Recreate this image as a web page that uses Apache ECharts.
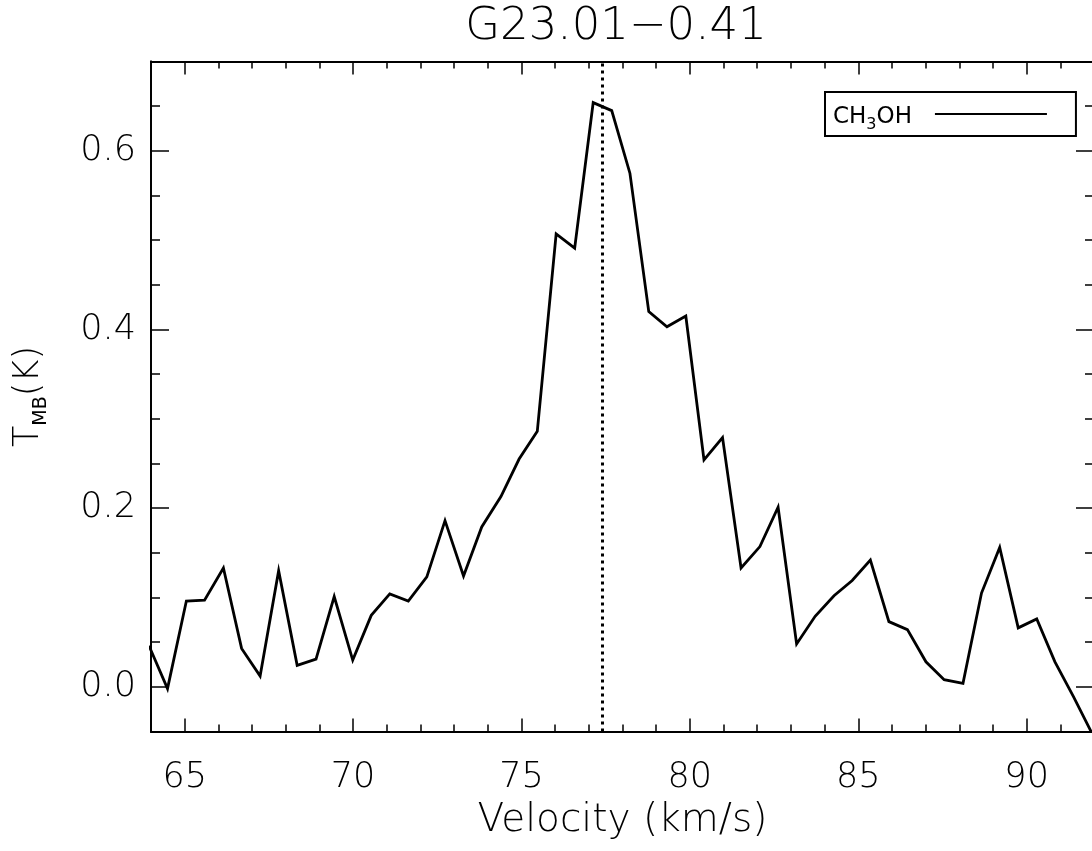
<!DOCTYPE html>
<html>
<head>
<meta charset="utf-8">
<script src="https://cdn.jsdelivr.net/npm/echarts@6/dist/echarts.min.js"></script>
<style>
html,body{margin:0;padding:0;background:#fff;}
#chart{width:1092px;height:851px;}
</style>
</head>
<body>
<div id="chart"></div>
<script>
// ---- data ----
const titleText = 'G23.01\u22120.41';
const seriesName = 'CH\u2083OH';
const velocity = [63.94, 64.49, 65.05, 65.59, 66.15, 66.69, 67.24, 67.79, 68.34, 68.90,
  69.44, 69.99, 70.54, 71.09, 71.64, 72.19, 72.73, 73.28, 73.82, 74.39,
  74.93, 75.47, 76.03, 76.58, 77.13, 77.68, 78.22, 78.78, 79.32, 79.88,
  80.42, 80.97, 81.52, 82.08, 82.62, 83.17, 83.72, 84.28, 84.82, 85.36,
  85.91, 86.46, 87.01, 87.55, 88.11, 88.66, 89.20, 89.75, 90.30, 90.84,
  91.39, 91.94];
const tmb = [0.046, -0.002, 0.096, 0.097, 0.133, 0.043, 0.012, 0.130, 0.024, 0.031,
  0.101, 0.030, 0.080, 0.104, 0.096, 0.123, 0.186, 0.124, 0.179, 0.213,
  0.255, 0.286, 0.507, 0.491, 0.654, 0.645, 0.575, 0.420, 0.403, 0.415,
  0.254, 0.279, 0.133, 0.157, 0.201, 0.048, 0.079, 0.102, 0.119, 0.142,
  0.073, 0.064, 0.028, 0.008, 0.004, 0.105, 0.156, 0.066, 0.076, 0.028,
  -0.011, -0.052];
const vlsr = 77.40;
const xMajorTicks = [65, 70, 75, 80, 85, 90];
const xMinorTicks = [66, 67, 68, 69, 71, 72, 73, 74, 76, 77, 78, 79, 81, 82, 83, 84, 86, 87, 88, 89, 91];
const yMajorTicks = [0, 0.2, 0.4, 0.6];
const yMinorTicks = [0.05, 0.1, 0.15, 0.25, 0.3, 0.35, 0.45, 0.5, 0.55, 0.65];
const xRange = [64, 92];
const yRange = [-0.05, 0.7];

// ---- chart ----
const FONT = 'DejaVu Sans';
const chart = echarts.init(document.getElementById('chart'), null, {renderer: 'canvas'});

function xAxisDef(position, ticks, len, withLabels, withName) {
  return {
    type: 'value', position: position, min: xRange[0], max: xRange[1],
    axisLine: {show: true, onZero: false, lineStyle: {color: '#000', width: 1.8}},
    axisTick: {show: true, inside: true, length: len, customValues: ticks, lineStyle: {color: '#000', width: 1.5}},
    axisLabel: withLabels ? {show: true, customValues: ticks, margin: 29, color: '#000', fontSize: 35, fontFamily: FONT, fontWeight: 200} : {show: false},
    splitLine: {show: false},
    name: withName ? 'Velocity (km/s)' : '',
    nameLocation: 'middle', nameGap: 70,
    nameTextStyle: {color: '#000', fontSize: 39, fontFamily: FONT, fontWeight: 200}
  };
}
function yAxisDef(position, ticks, len, withLabels, withName) {
  return {
    type: 'value', position: position, min: yRange[0], max: yRange[1],
    axisLine: {show: true, onZero: false, lineStyle: {color: '#000', width: 1.8}},
    axisTick: {show: true, inside: true, length: len, customValues: ticks, lineStyle: {color: '#000', width: 1.5}},
    axisLabel: withLabels ? {show: true, customValues: ticks, margin: 15, color: '#000', fontSize: 35, fontFamily: FONT, fontWeight: 200,
      formatter: v => v.toFixed(1)} : {show: false},
    splitLine: {show: false},
    name: withName ? '{a|T}{s|MB}{a|(K)}' : '',
    nameLocation: 'middle', nameGap: 100, nameRotate: 90,
    nameTextStyle: {
      color: '#000', fontFamily: FONT,
      rich: {
        a: {fontSize: 35, lineHeight: 45, fontFamily: FONT, fontWeight: 200, color: '#000'},
        s: {fontSize: 19, lineHeight: 19, verticalAlign: 'bottom', fontFamily: FONT, color: '#000'}
      }
    }
  };
}

const option = {
  backgroundColor: '#fff',
  animation: false,
  title: {
    text: titleText, left: 616, top: 5, padding: 0, textAlign: 'center',
    textStyle: {color: '#000', fontSize: 45, fontWeight: 200, fontFamily: FONT}
  },
  grid: {left: 151, right: -2, top: 61.5, bottom: 119.5, containLabel: false, outerBoundsMode: 'none'},
  legend: {
    data: [seriesName],
    left: 825, top: 92,
    align: 'right',
    icon: 'rect',
    itemWidth: 112, itemHeight: 2,
    padding: [3, 29, 3, 8],
    borderColor: '#000', borderWidth: 2, borderRadius: 0,
    backgroundColor: '#fff',
    selectedMode: false,
    itemStyle: {color: '#000', borderWidth: 0},
    formatter: () => '{a|CH}{s|3}{a|OH}',
    textStyle: {
      color: '#000', padding: [6, 18, 0, 0], lineHeight: 32,
      rich: {
        a: {fontSize: 23, lineHeight: 32, fontFamily: FONT, color: '#000'},
        s: {fontSize: 16, lineHeight: 16, verticalAlign: 'bottom', fontFamily: FONT, color: '#000'}
      }
    }
  },
  xAxis: [
    xAxisDef('bottom', xMajorTicks, 13, true, true),
    xAxisDef('bottom', xMinorTicks, 7, false, false),
    xAxisDef('top', xMajorTicks, 13, false, false),
    xAxisDef('top', xMinorTicks, 7, false, false)
  ],
  yAxis: [
    yAxisDef('left', yMajorTicks, 18, true, true),
    yAxisDef('left', yMinorTicks, 9, false, false),
    yAxisDef('right', yMajorTicks, 18, false, false),
    yAxisDef('right', yMinorTicks, 9, false, false)
  ],
  series: [{
    name: seriesName,
    type: 'line',
    xAxisIndex: 0, yAxisIndex: 0,
    data: velocity.map((v, i) => [v, tmb[i]]),
    showSymbol: false, symbol: 'none',
    clip: true,
    lineStyle: {color: '#000', width: 2.8, join: 'miter'},
    itemStyle: {color: '#000'},
    markLine: {
      silent: true, symbol: ['none', 'none'], label: {show: false},
      lineStyle: {color: '#000', width: 3, type: [3, 4]},
      data: [{xAxis: vlsr}]
    }
  }]
};
chart.setOption(option);
</script>
</body>
</html>
